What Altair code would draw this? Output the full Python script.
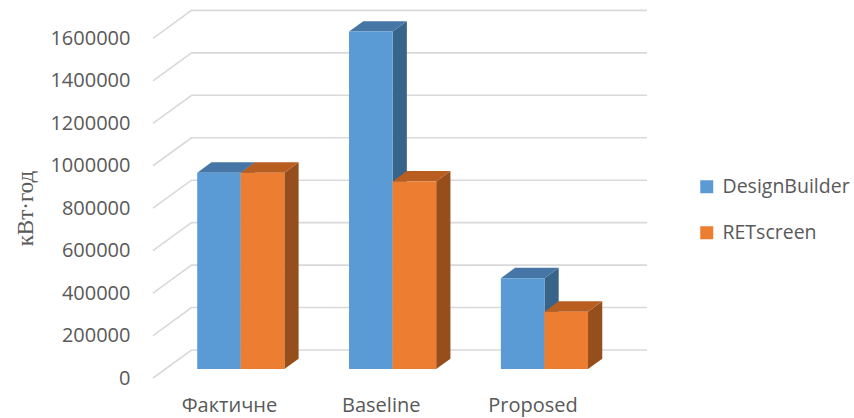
import altair as alt
import pandas as pd

# ---- data ----
categories = ["Фактичне", "Baseline", "Proposed"]
series = ["DesignBuilder", "RETscreen"]
design_builder = [925000, 1590000, 428000]
retscreen = [925000, 884000, 270000]
y_ticks = [0, 200000, 400000, 600000, 800000, 1000000, 1200000, 1400000, 1600000]
y_title = "кВт·год"

# ---- style / projection parameters ----
front_colors = ["#5B9BD5", "#ED7D31"]
top_colors = ["#4676A6", "#B95E21"]
side_colors = ["#39648A", "#964F1C"]
grid_color = "#D9D9D9"
text_color = "#595959"

PX_PER_VAL = 42.45 / 200000.0      # pixels per value unit
PLOT_W, PLOT_H = 494, 368
DEPTH_X = 0.2536                    # full floor depth, in category units
DEPTH_Y = 28 / PX_PER_VAL           # full floor depth, in value units
F0, FD = 0.32, 0.37                 # bar start depth / bar depth (fractions of floor)
GAP, BW = 0.21, 0.287               # left gap and bar width (category units)
Y_MAX = PLOT_H / PX_PER_VAL
X_MAX = len(categories) + DEPTH_X

values = [design_builder, retscreen]

# gridlines (diagonal on the left side wall, horizontal on the back wall)
grid_rows = []
for t in y_ticks:
    grid_rows += [
        {"lvl": t, "x": 0.0, "y": t},
        {"lvl": t, "x": DEPTH_X, "y": t + DEPTH_Y},
        {"lvl": t, "x": len(categories) + DEPTH_X, "y": t + DEPTH_Y},
    ]
grid_df = pd.DataFrame(grid_rows)

xs = DEPTH_X * F0
ys = DEPTH_Y * F0
sx = DEPTH_X * FD
sy = DEPTH_Y * FD

front_dfs, face_dfs = [], []
for j, s in enumerate(series):
    fr, fa = [], []
    for i, c in enumerate(categories):
        v = values[j][i]
        x1 = i + GAP + j * BW + xs
        x2 = x1 + BW
        fr.append({"series": s, "cat": c, "x": x1, "x2": x2, "y": ys, "y2": ys + v})
        # side face
        fid = f"side-{i}"
        fa += [
            {"face": fid, "fill": side_colors[j], "x": x2, "y": ys, "y2": ys + v},
            {"face": fid, "fill": side_colors[j], "x": x2 + sx, "y": ys + sy, "y2": ys + sy + v},
        ]
        # top face
        fid = f"top-{i}"
        a, h = ys + v, sy
        fa += [
            {"face": fid, "fill": top_colors[j], "x": x1, "y": a, "y2": a},
            {"face": fid, "fill": top_colors[j], "x": x1 + sx, "y": a, "y2": a + h},
            {"face": fid, "fill": top_colors[j], "x": x2, "y": a, "y2": a + h},
            {"face": fid, "fill": top_colors[j], "x": x2 + sx, "y": a + h, "y2": a + h},
        ]
    front_dfs.append(pd.DataFrame(fr))
    face_dfs.append(pd.DataFrame(fa))

x_scale = alt.Scale(domain=[0, X_MAX], nice=False, zero=False)
y_scale = alt.Scale(domain=[0, Y_MAX], nice=False, zero=False)

label_expr = "[" + ",".join(f"'{c}'" for c in categories) + "][floor(datum.value)]"

x_axis = alt.Axis(
    values=[i + 0.5 for i in range(len(categories))],
    labelExpr=label_expr, title=None, grid=False, domain=False, ticks=False,
    labelFont="Open Sans", labelFontSize=20, labelColor=text_color, labelPadding=17,
)
y_axis = alt.Axis(
    values=y_ticks, format="d", grid=False, domain=False, ticks=False,
    labelFont="Open Sans", labelFontSize=20, labelColor=text_color, labelPadding=23,
    title=y_title, titleFont="Liberation Serif", titleFontSize=23, titleFontWeight="normal",
    titleColor=text_color, titleAngle=270, titleX=-128, titleY=198,
    titleAlign="center", titleBaseline="middle",
)

grid = alt.Chart(grid_df).mark_line(color=grid_color, strokeWidth=1.6).encode(
    x=alt.X("x:Q", scale=x_scale, axis=x_axis),
    y=alt.Y("y:Q", scale=y_scale, axis=y_axis),
    detail="lvl:N",
)

color_scale = alt.Scale(domain=series, range=front_colors)
layers = [grid]
for j in range(len(series)):
    faces = alt.Chart(face_dfs[j]).mark_area(orient="vertical", interpolate="linear").encode(
        x=alt.X("x:Q", scale=x_scale),
        y=alt.Y("y:Q", scale=y_scale),
        y2="y2:Q",
        detail="face:N",
        fill=alt.Fill("fill:N", scale=None),
    )
    fronts = alt.Chart(front_dfs[j]).mark_rect().encode(
        x=alt.X("x:Q", scale=x_scale),
        x2="x2:Q",
        y=alt.Y("y:Q", scale=y_scale),
        y2="y2:Q",
        color=alt.Color(
            "series:N", scale=color_scale,
            legend=alt.Legend(
                title=None, orient="none", legendX=544, legendY=167,
                symbolType="square", symbolSize=169, symbolStrokeWidth=0,
                labelFont="Open Sans", labelFontSize=19.5, labelColor=text_color,
                rowPadding=25, labelOffset=6, padding=0,
            ),
        ),
    )
    layers += [faces, fronts]

chart = alt.layer(*layers).properties(
    width=PLOT_W, height=PLOT_H,
    autosize=alt.AutoSizeParams(type="none"),
    padding={"left": 153, "top": 10, "right": 207, "bottom": 40},
).configure_view(stroke=None)

chart.save("out.html", embed_options={"renderer": "svg", "actions": False})
